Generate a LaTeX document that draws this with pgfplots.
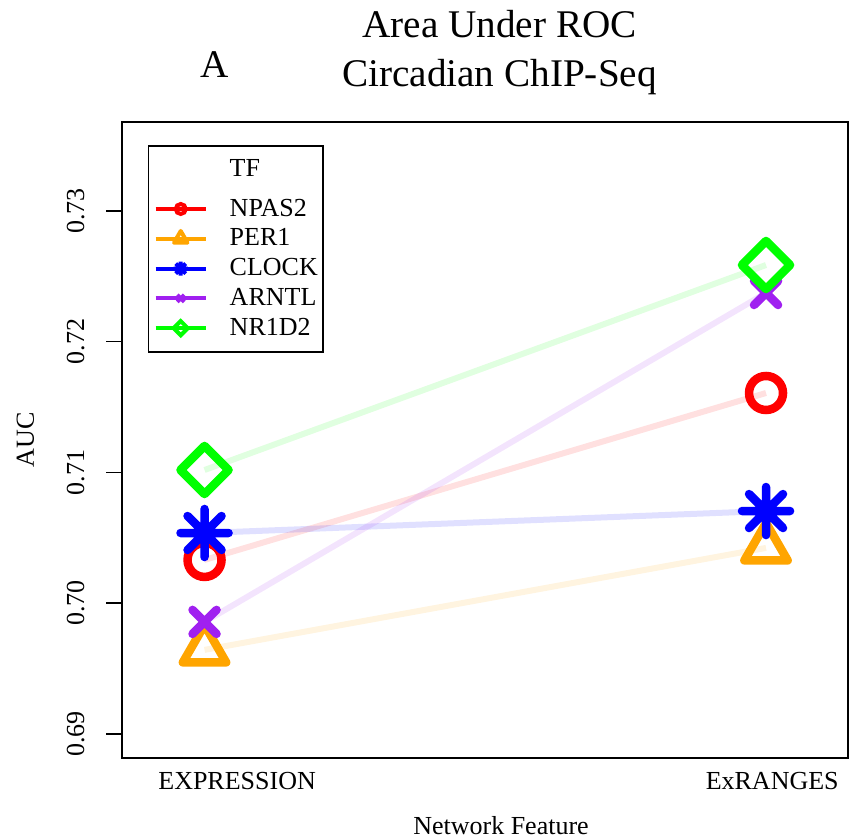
\documentclass[border=0pt]{standalone}
\usepackage{pgfplots}
\pgfplotsset{compat=1.18}
\usepackage{fontspec}
\setmainfont{Liberation Serif}
\definecolor{rred}{HTML}{FF0000}
\definecolor{rorange}{HTML}{FFA500}
\definecolor{rblue}{HTML}{0000FF}
\definecolor{rpurple}{HTML}{A020F0}
\definecolor{rgreen}{HTML}{00FF00}
\pgfdeclareplotmark{rast}{%
  \pgfpathmoveto{\pgfqpoint{0pt}{1.414\pgfplotmarksize}}%
  \pgfpathlineto{\pgfqpoint{0pt}{-1.414\pgfplotmarksize}}%
  \pgfpathmoveto{\pgfqpoint{1.414\pgfplotmarksize}{0pt}}%
  \pgfpathlineto{\pgfqpoint{-1.414\pgfplotmarksize}{0pt}}%
  \pgfpathmoveto{\pgfqpoint{\pgfplotmarksize}{\pgfplotmarksize}}%
  \pgfpathlineto{\pgfqpoint{-\pgfplotmarksize}{-\pgfplotmarksize}}%
  \pgfpathmoveto{\pgfqpoint{-\pgfplotmarksize}{\pgfplotmarksize}}%
  \pgfpathlineto{\pgfqpoint{\pgfplotmarksize}{-\pgfplotmarksize}}%
  \pgfusepathqstroke}
\newcommand{\lbl}{\fontsize{13}{15}\selectfont}
\begin{document}
\begin{tikzpicture}
\useasboundingbox (-61pt,-40pt) rectangle (364pt,379pt);
\begin{axis}[
  scale only axis, width=363pt, height=318pt,
  xmin=0.853, xmax=2.146, ymin=0.68816, ymax=0.73681,
  axis line style={line width=0.75pt},
  xtick={1.058,2.011}, xticklabels={EXPRESSION,ExRANGES},
  x tick style={draw=none},
  xticklabel style={anchor=base, yshift=-8pt, inner sep=0pt, font=\lbl},
  ytick={0.69,0.70,0.71,0.72,0.73},
  y tick style={line width=0.75pt, black},
  tick align=outside, major tick length=8pt,
  ytick pos=left, xtick pos=bottom,
  /pgf/number format/assume math mode=true,
  yticklabel style={rotate=90, anchor=south, inner sep=0pt, font=\lbl,
    /pgf/number format/.cd, fixed, fixed zerofill, precision=2, /tikz/.cd},
  yticklabel shift=10.5pt,
  legend style={at={(0.0358,0.9638)}, anchor=north west, draw=black, line width=0.75pt,
    font=\lbl, inner xsep=2.5pt, inner ysep=6.75pt, row sep=4.8pt, column sep=11pt,
    nodes={inner sep=0pt}},
  legend cell align=left,
  legend image code/.code={\draw[mark repeat=2,mark phase=2,#1] plot coordinates {(0pt,0pt)(12.5pt,0pt)(25pt,0pt)};},
]
% connecting lines (light)
\addplot[rred, opacity=0.12, line width=3pt, forget plot] coordinates {(1,0.70331) (2,0.71608)};
\addplot[rorange, opacity=0.12, line width=3pt, forget plot] coordinates {(1,0.69643) (2,0.70423)};
\addplot[rblue, opacity=0.12, line width=3pt, forget plot] coordinates {(1,0.70537) (2,0.70705)};
\addplot[rpurple, opacity=0.12, line width=3pt, forget plot] coordinates {(1,0.69857) (2,0.72373)};
\addplot[rgreen, opacity=0.12, line width=3pt, forget plot] coordinates {(1,0.71019) (2,0.72587)};
% markers
\addplot[only marks, rred, mark=o, mark size=8.5pt, line width=4.25pt, forget plot] coordinates {(1,0.70331) (2,0.71608)};
\addplot[only marks, rorange, mark=triangle, mark size=12.5pt, line width=4.25pt, mark options={line join=round}, forget plot] coordinates {(1,0.69643) (2,0.70423)};
\addplot[only marks, rblue, mark=rast, mark size=8.5pt, line width=4.25pt, mark options={line cap=round}, forget plot] coordinates {(1,0.70537) (2,0.70705)};
\addplot[only marks, rpurple, mark=x, mark size=8.5pt, line width=4.25pt, mark options={line cap=round}, forget plot] coordinates {(1,0.69857) (2,0.72373)};
\addplot[only marks, rgreen, mark=square, mark size=8.5pt, line width=4.25pt, mark options={rotate=45, line join=round}, forget plot] coordinates {(1,0.71019) (2,0.72587)};
% legend
\addlegendimage{empty legend}
\addlegendentry{\raisebox{5pt}{TF}}
\addlegendimage{rred, line width=2pt, mark=o, mark size=2.5pt}
\addlegendentry{NPAS2}
\addlegendimage{rorange, line width=2pt, mark=triangle, mark size=3.9pt, mark options={line join=round}}
\addlegendentry{PER1}
\addlegendimage{rblue, line width=2pt, mark=rast, mark size=2.5pt}
\addlegendentry{CLOCK}
\addlegendimage{rpurple, line width=2pt, mark=x, mark size=2.5pt}
\addlegendentry{ARNTL}
\addlegendimage{rgreen, line width=2pt, mark=square, mark size=2.5pt, mark options={rotate=45}}
\addlegendentry{NR1D2}
\end{axis}
\node[anchor=base, font=\lbl] at (189.5pt,-38.5pt) {Network Feature};
\node[anchor=base, font=\lbl, rotate=90] at (-44pt,159pt) {AUC};
\node[anchor=base, font=\fontsize{19.6}{23}\selectfont] at (188.75pt,360pt) {Area Under ROC};
\node[anchor=base, font=\fontsize{19.6}{23}\selectfont] at (188.75pt,335.5pt) {Circadian ChIP-Seq};
\node[anchor=base, font=\fontsize{19.6}{23}\selectfont] at (46.5pt,340pt) {A};
\end{tikzpicture}
\end{document}
